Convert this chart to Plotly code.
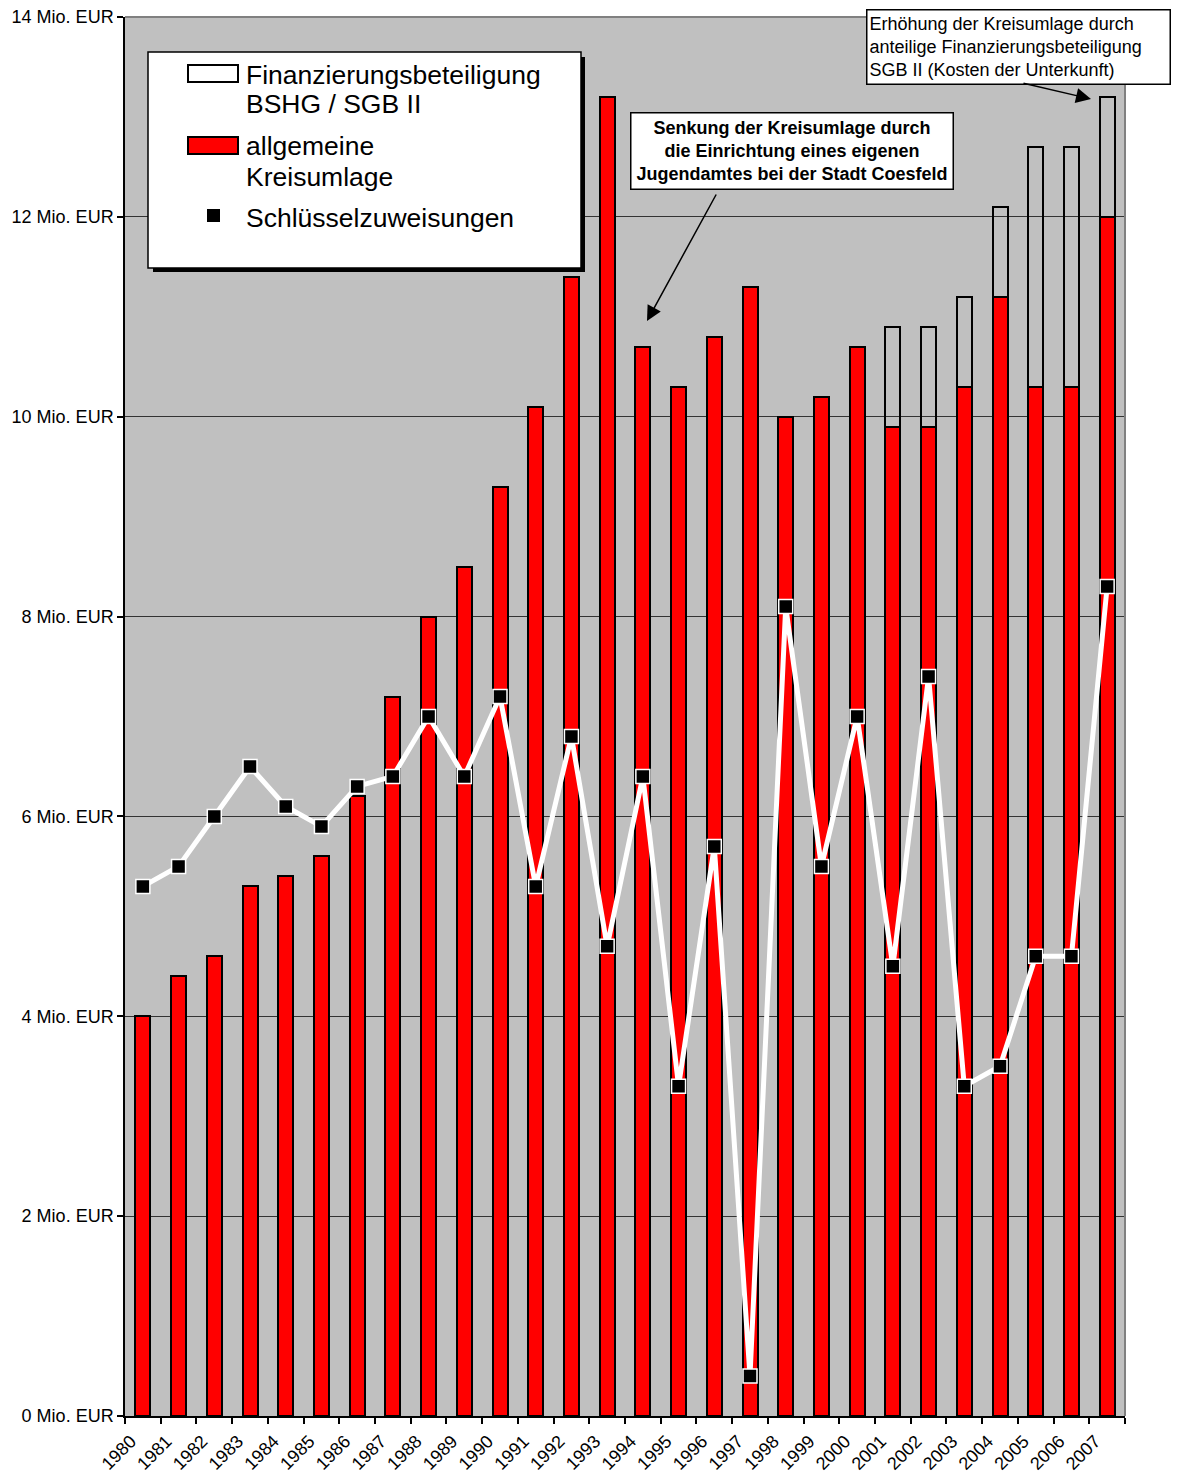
import plotly.graph_objects as go

years = ["1980", "1981", "1982", "1983", "1984", "1985", "1986", "1987", "1988", "1989",
         "1990", "1991", "1992", "1993", "1994", "1995", "1996", "1997", "1998", "1999",
         "2000", "2001", "2002", "2003", "2004", "2005", "2006", "2007"]

kreisumlage = [4.0, 4.4, 4.6, 5.3, 5.4, 5.6, 6.2, 7.2, 8.0, 8.5,
               9.3, 10.1, 11.4, 13.2, 10.7, 10.3, 10.8, 11.3, 10.0, 10.2,
               10.7, 9.9, 9.9, 10.3, 11.2, 10.3, 10.3, 12.0]

finanzierung = [0, 0, 0, 0, 0, 0, 0, 0, 0, 0,
                0, 0, 0, 0, 0, 0, 0, 0, 0, 0,
                0, 1.0, 1.0, 0.9, 0.9, 2.4, 2.4, 1.2]

schluessel = [5.3, 5.5, 6.0, 6.5, 6.1, 5.9, 6.3, 6.4, 7.0, 6.4,
              7.2, 5.3, 6.8, 4.7, 6.4, 3.3, 5.7, 0.4, 8.1, 5.5,
              7.0, 4.5, 7.4, 3.3, 3.5, 4.6, 4.6, 8.3]

y_tickvals = [0, 2, 4, 6, 8, 10, 12, 14]
y_ticktext = ["0 Mio. EUR", "2 Mio. EUR", "4 Mio. EUR", "6 Mio. EUR",
              "8 Mio. EUR", "10 Mio. EUR", "12 Mio. EUR", "14 Mio. EUR"]

legend_names = [["Finanzierungsbeteiligung", "BSHG / SGB II"],
                ["allgemeine", "Kreisumlage"],
                ["Schlüsselzuweisungen"]]

note_senkung = ["Senkung der Kreisumlage durch",
                "die Einrichtung eines eigenen",
                "Jugendamtes bei der Stadt Coesfeld"]
note_erhoehung = ["Erhöhung der Kreisumlage durch",
                  "anteilige Finanzierungsbeteiligung",
                  "SGB II (Kosten der Unterkunft)"]

W, H = 1181, 1474
OFF = 8  # page body margin
L, R, T, B = 125, 56, 17, 58
PW, PH = W - L - R, H - T - B
FONT = "Arial, Liberation Sans, sans-serif"


def xp(px):
    return (px - L) / PW


def yp(py):
    return (H - B - py) / PH


fig = go.Figure()
fig.add_trace(go.Bar(x=years, y=kreisumlage, name="allgemeine Kreisumlage",
                     marker=dict(color="#FF0000", line=dict(color="black", width=2)),
                     showlegend=False))
fig.add_trace(go.Bar(x=years, y=finanzierung, name="Finanzierungsbeteiligung BSHG / SGB II",
                     marker=dict(color="rgba(0,0,0,0)", line=dict(color="black", width=2)),
                     showlegend=False))
fig.add_trace(go.Scatter(x=years, y=schluessel, name="Schlüsselzuweisungen",
                         mode="lines+markers",
                         line=dict(color="white", width=5),
                         marker=dict(symbol="square", size=14, color="black",
                                     line=dict(color="white", width=1.5)),
                         showlegend=False))

shapes = []
shapes.append(dict(type="line", xref="paper", yref="paper", x0=0, x1=1, y0=1, y1=1,
                   line=dict(color="#808080", width=2)))
shapes.append(dict(type="line", xref="paper", yref="paper", x0=1, x1=1, y0=0, y1=1,
                   line=dict(color="#808080", width=2)))
shapes.append(dict(type="rect", xref="paper", yref="paper",
                   x0=xp(153), x1=xp(585), y0=yp(272), y1=yp(57),
                   fillcolor="black", line=dict(width=0), layer="above"))
shapes.append(dict(type="rect", xref="paper", yref="paper",
                   x0=xp(148), x1=xp(581), y0=yp(268), y1=yp(52),
                   fillcolor="white", line=dict(color="black", width=1.5), layer="above"))
shapes.append(dict(type="rect", xref="paper", yref="paper",
                   x0=xp(188), x1=xp(238), y0=yp(82), y1=yp(65),
                   fillcolor="white", line=dict(color="black", width=2), layer="above"))
shapes.append(dict(type="rect", xref="paper", yref="paper",
                   x0=xp(188), x1=xp(238), y0=yp(154), y1=yp(137),
                   fillcolor="#FF0000", line=dict(color="black", width=2), layer="above"))
shapes.append(dict(type="rect", xref="paper", yref="paper",
                   x0=xp(207), x1=xp(220), y0=yp(222), y1=yp(209),
                   fillcolor="black", line=dict(width=0), layer="above"))

annotations = []
legend_line_y = [[75, 104], [146, 177], [218]]
for names, ys in zip(legend_names, legend_line_y):
    for name, yy in zip(names, ys):
        annotations.append(dict(text=name, xref="paper", yref="paper",
                                x=xp(244), y=yp(yy), xanchor="left", yanchor="middle",
                                showarrow=False, font=dict(family=FONT, size=26.5, color="black")))

annotations.append(dict(text="<b>" + "<br>".join(note_senkung) + "</b>",
                        xref="paper", yref="paper", x=xp(791.5), y=yp(150.5),
                        xanchor="center", yanchor="middle", align="center",
                        showarrow=False, bgcolor="white", bordercolor="black",
                        borderwidth=1.5, borderpad=2, width=317, height=71,
                        font=dict(family=FONT, size=18, color="black")))
annotations.append(dict(text="<br>".join(note_erhoehung),
                        xref="paper", yref="paper", x=xp(1018), y=yp(46.5),
                        xanchor="center", yanchor="middle", align="left",
                        showarrow=False, bgcolor="white", bordercolor="black",
                        borderwidth=1.5, borderpad=2, width=298, height=69,
                        font=dict(family=FONT, size=18, color="black")))
annotations.append(dict(text="", xref="paper", yref="paper", x=xp(647), y=yp(321),
                        ax=70, ay=-128, showarrow=True, arrowhead=2, arrowsize=2,
                        arrowwidth=1.5, arrowcolor="black", standoff=0))
annotations.append(dict(text="", xref="paper", yref="paper", x=xp(1091), y=yp(99),
                        ax=-69, ay=-16, showarrow=True, arrowhead=2, arrowsize=2,
                        arrowwidth=1.5, arrowcolor="black", standoff=0))

fig.update_layout(
    width=W - OFF, height=H - OFF,
    margin=dict(l=L - OFF, r=R, t=T - OFF, b=B, autoexpand=False),
    paper_bgcolor="white",
    plot_bgcolor="#C0C0C0",
    barmode="stack",
    bargap=0.58,
    showlegend=False,
    font=dict(family=FONT, color="black"),
    shapes=shapes,
    annotations=annotations,
)
fig.update_xaxes(type="category", range=[-0.5, len(years) - 0.5], tickson="boundaries",
                 ticks="outside", ticklen=6,
                 tickcolor="black", tickwidth=1.5, showline=True, linecolor="black",
                 linewidth=1.5, showgrid=False, tickangle=-45,
                 ticklabelshift=-12, ticklabelstandoff=6,
                 tickfont=dict(family=FONT, size=18, color="black"), automargin=False)
fig.update_yaxes(range=[0, 14], tickvals=y_tickvals, ticktext=y_ticktext, ticks="outside",
                 ticklen=6, tickcolor="black", tickwidth=1.5, showline=True,
                 linecolor="black", linewidth=1.5, showgrid=True, gridcolor="#333333",
                 gridwidth=1, zeroline=False, ticklabeloverflow="allow",
                 tickfont=dict(family=FONT, size=18, color="black"), automargin=False)

fig.write_html("out.html")
